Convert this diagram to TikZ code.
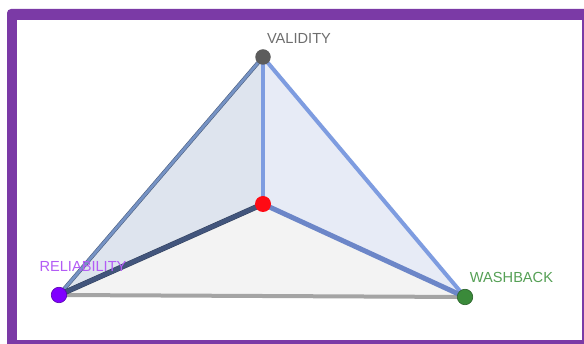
\documentclass[tikz,border=0pt]{standalone}
\usepackage{fontspec}
\setmainfont{Liberation Sans}
\definecolor{frame}{HTML}{7B3AA6}
\definecolor{faceL}{HTML}{DEE4EE}
\definecolor{faceR}{HTML}{E7EBF6}
\definecolor{faceB}{HTML}{F3F3F3}
\definecolor{edgeVR}{HTML}{7592C4}
\definecolor{edgeBlue}{HTML}{7E9CE0}
\definecolor{edgeRC}{HTML}{42557C}
\definecolor{edgeCW}{HTML}{6C86C8}
\definecolor{edgeRW}{HTML}{A4A4A4}
\definecolor{dotV}{HTML}{5C5C5C}
\definecolor{dotC}{HTML}{FF0A14}
\definecolor{dotR}{HTML}{8000FF}
\definecolor{dotW}{HTML}{3A8A3A}
\definecolor{txtV}{HTML}{6E6E6E}
\definecolor{txtR}{HTML}{B35CF5}
\definecolor{txtW}{HTML}{55A055}
\tikzset{
  dot/.style={circle,inner sep=0pt,minimum size=15.5pt},
  lbl/.style={inner sep=0pt,font=\fontsize{14.6}{16}\selectfont},
  edge/.style={line cap=round,line join=round}
}
\begin{document}
\begin{tikzpicture}[x=1pt,y=-1pt]
\useasboundingbox (0,0) rectangle (584,344);
% frame
\fill[frame,rounded corners=4pt] (7,9) rectangle (590,350);
\fill[white] (17,20) rectangle (582,340);
% vertices
\coordinate (V) at (263,57);
\coordinate (C) at (263,204);
\coordinate (R) at (59,295);
\coordinate (W) at (465,297);
% faces
\fill[faceB] (R) -- (C) -- (W) -- cycle;
\fill[faceL] (V) -- (R) -- (C) -- cycle;
\fill[faceR] (V) -- (C) -- (W) -- cycle;
% edges
\draw[edge,edgeRW,line width=4pt] (R) -- (W);
\draw[edge,edgeVR!65!black,line width=4pt] (V) -- (R);
\draw[edge,edgeVR,line width=2.8pt] (V) -- (R);
\draw[edge,edgeBlue,line width=4pt] (V) -- (C);
\draw[edge,edgeBlue,line width=4pt] (V) -- (W);
\draw[edge,edgeRC!75!black,line width=5.4pt] (R) -- (C);
\draw[edge,edgeRC,line width=4.4pt] (R) -- (C);
\draw[edge,edgeCW,line width=5pt] (C) -- (W);
% dots
\node[dot,fill=dotV] (nV) at (V) {};
\node[dot,fill=dotC,minimum size=16pt] (nC) at (C) {};
\node[dot,fill=dotR,draw=dotR!70!black,line width=0.6pt] (nR) at (R) {};
\node[dot,fill=dotW,draw=dotW!70!black,line width=0.6pt] (nW) at (W) {};
% labels
\node[lbl,text=txtV] (lV) at (299,38) {VALIDITY};
\node[lbl,text=txtR] (lR) at (83,266) {RELIABILITY};
\node[lbl,text=txtW] (lW) at (511.5,277) {WASHBACK};
\end{tikzpicture}
\end{document}
